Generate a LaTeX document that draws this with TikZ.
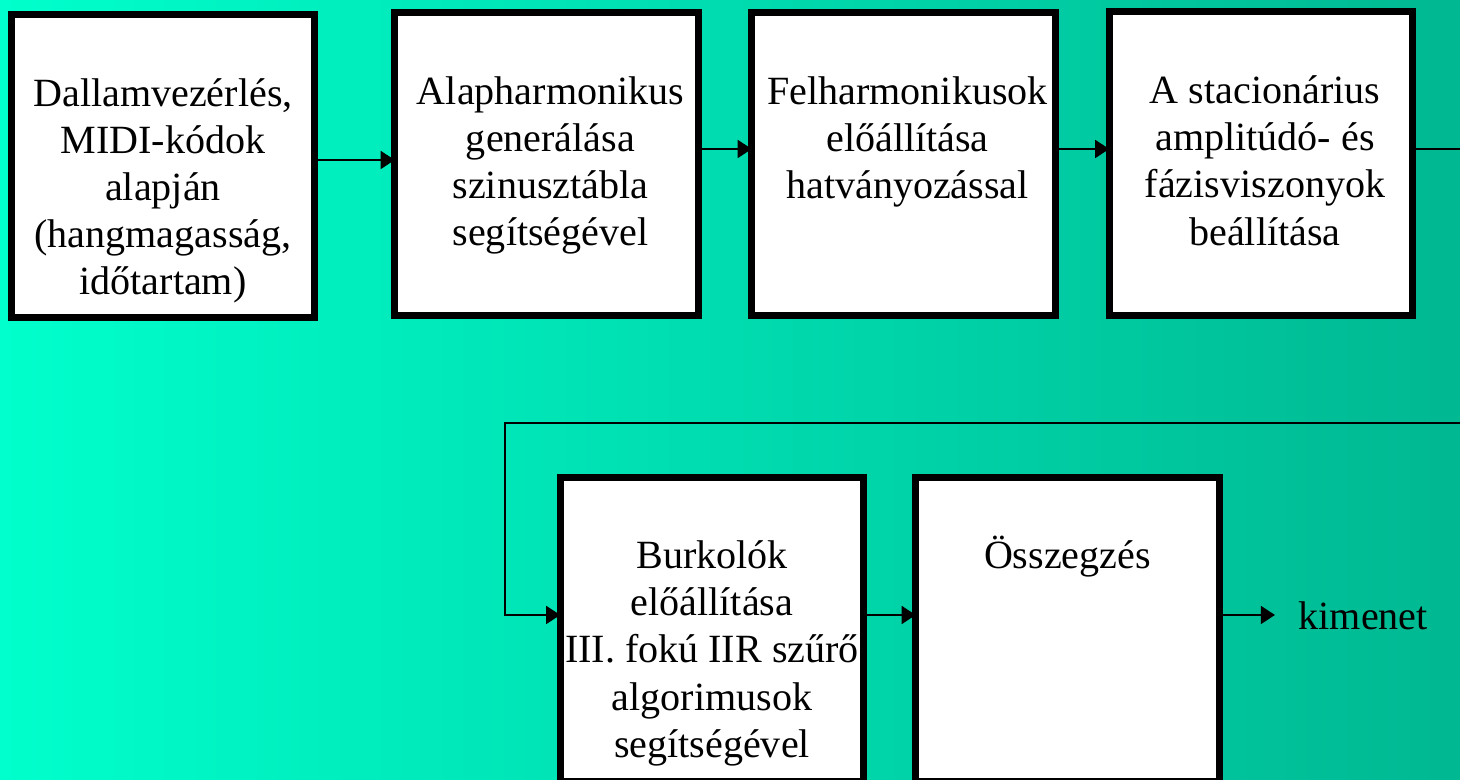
\documentclass[tikz,border=0pt]{standalone}
\usepackage{fontspec}
\setmainfont{Liberation Serif}
\usetikzlibrary{arrows.meta}
\definecolor{bgleft}{RGB}{0,255,204}
\definecolor{bgright}{RGB}{0,184,146}

\begin{document}
\begin{tikzpicture}[
  box/.style = {fill=white, minimum width=3.02cm, minimum height=3.02cm, inner sep=0pt},
  frame/.style = {line width=2pt},
  txt/.style = {align=center, inner sep=0pt, font=\fontsize{11.4pt}{13.4pt}\selectfont, anchor=base},
  arr/.style = {line width=0.8pt, -{Triangle[length=4pt,width=5pt]}}]
\useasboundingbox (0,0) rectangle (14.6,7.8);
\shade[left color=bgleft, right color=bgright] (0,0) rectangle (14.6,7.8);
\node[box] (b1) at (1.63,6.14) {};
\node[box] (b2) at (5.465,6.16) {};
\node[box] (b3) at (9.035,6.16) {};
\node[box] (b4) at (12.61,6.165) {};
\node[box] (b5) at (7.12,1.505) {};
\node[box] (b6) at (10.675,1.505) {};
\node[txt] (t1) at ([yshift=-9.2mm-4*13.4pt]b1.north) {Dallamvezérlés,\\MIDI-kódok\\alapján\\(hangmagasság,\\időtartam)};
\node[txt] (t2) at ([xshift=0.4mm,yshift=-9.2mm-3*13.4pt]b2.north) {Alapharmonikus\\generálása\\szinusztábla\\segítségével};
\node[txt] (t3) at ([xshift=0.4mm,yshift=-9.2mm-2*13.4pt]b3.north) {Felharmonikusok\\előállítása\\hatványozással};
\node[txt] (t4) at ([xshift=0.4mm,yshift=-9.2mm-3*13.4pt]b4.north) {A stacionárius\\amplitúdó- és\\fázisviszonyok\\beállítása};
\node[txt] (t5) at ([yshift=-9.1mm-4*13.4pt]b5.north) {Burkolók\\előállítása\\III. fokú IIR szűrő\\algorimusok\\segítségével};
\node[txt] (t6) at ([yshift=-9.1mm]b6.north) {Összegzés};
\foreach \b in {b1,b2,b3,b4,b5,b6}
  \draw[frame] (\b.north west) rectangle (\b.south east);
\node[txt, anchor=base west] (out) at (12.98,1.5) {kimenet};
\coordinate (back) at (14.8,3.57);
\coordinate (corner) at (5.05,3.57);
\draw[arr] (b1.east |- 0,6.2) -- (b2.west |- 0,6.2);
\draw[arr] (b2.east |- 0,6.31) -- (b3.west |- 0,6.31);
\draw[arr] (b3.east |- 0,6.31) -- (b4.west |- 0,6.31);
\draw[arr] (b4.east |- 0,6.31) -| (back) -- (corner) |- (b5.west |- 0,1.65);
\draw[arr] (b5.east |- 0,1.65) -- (b6.west |- 0,1.65);
\draw[arr, shorten >=2.3mm] (b6.east |- 0,1.65) -- (out.west |- 0,1.65);
\end{tikzpicture}
\end{document}
